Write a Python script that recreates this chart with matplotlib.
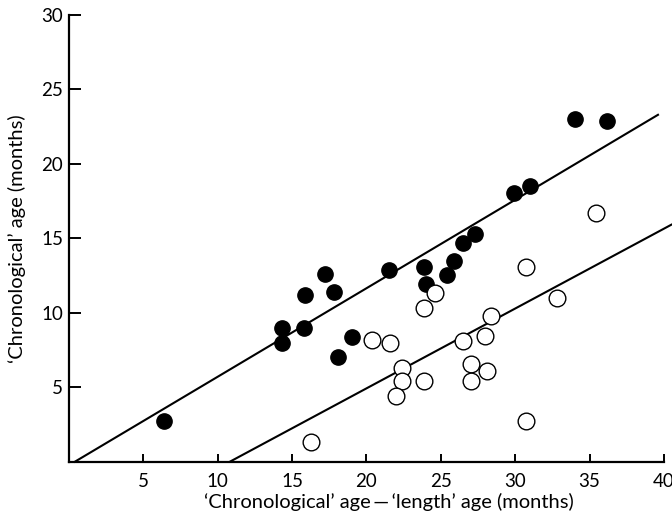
import numpy as np
import matplotlib
matplotlib.use("Agg")
import matplotlib.pyplot as plt

plt.rcParams['font.family'] = ['Lato', 'DejaVu Sans']

# filled circles
filled_x = [6.4, 14.3, 14.3, 15.9, 15.8, 17.2, 17.8, 19.0, 18.1, 21.5,
            23.9, 24.0, 25.4, 25.9, 26.5, 27.3, 29.95, 31.0, 34.0, 36.15]
filled_y = [2.75, 8.95, 7.95, 11.2, 8.95, 12.6, 11.4, 8.4, 7.0, 12.9,
            13.1, 11.9, 12.55, 13.5, 14.65, 15.25, 18.05, 18.5, 23.0, 22.9]

# open circles
open_x = [16.3, 20.4, 21.6, 22.4, 22.4, 22.0, 23.9, 23.9, 24.6, 26.5,
          27.0, 27.0, 28.1, 28.0, 28.4, 30.7, 30.7, 32.8, 35.4]
open_y = [1.35, 8.2, 8.0, 6.3, 5.45, 4.4, 5.4, 10.3, 11.3, 8.1,
          6.55, 5.45, 6.1, 8.45, 9.75, 2.75, 13.1, 11.0, 16.7]

# fitted lines: slope, intercept, x range
upper_slope, upper_icpt, upper_range = 0.594, -0.24, (0.4, 39.6)
lower_slope, lower_icpt, lower_range = 0.536, -5.8, (10.83, 40.5)

xticks = [5, 10, 15, 20, 25, 30, 35, 40]
yticks = [5, 10, 15, 20, 25, 30]

fig = plt.figure(figsize=(6.72, 5.22), dpi=100)
ax = fig.add_axes([0.1025, 0.1155, 0.8855, 0.8563])

for slope, icpt, rng in [(upper_slope, upper_icpt, upper_range),
                         (lower_slope, lower_icpt, lower_range)]:
    xs = np.array(rng)
    ax.plot(xs, slope * xs + icpt, color='black', lw=1.5, clip_on=False, zorder=2)

ax.plot(filled_x, filled_y, 'o', ms=11, color='black', zorder=3)
ax.plot(open_x, open_y, 'o', ms=12, mfc='white', mec='black', mew=1.0, zorder=3)

ax.set_xlim(0, 40)
ax.set_ylim(0, 30)
ax.spines['top'].set_visible(False)
ax.spines['right'].set_visible(False)
ax.spines['left'].set_linewidth(1.6)
ax.spines['bottom'].set_linewidth(1.6)

ax.set_xticks(xticks)
ax.set_yticks(yticks)
ax.tick_params(axis='x', direction='in', length=5.5, width=1.4, labelsize=13.5, pad=8)
ax.tick_params(axis='y', direction='in', length=8.5, width=1.4, labelsize=13.5, pad=4)

ax.set_xlabel('\u2018Chronological\u2019 age\u2009\u2014\u2009\u2018length\u2019 age (months)',
              fontsize=14.5, labelpad=2)
ax.xaxis.label.set_x(0.538)  # label sits a bit right of centre in the original
ax.set_ylabel('\u2018Chronological\u2019 age (months)', fontsize=14.5, labelpad=11)

fig.savefig('out.png', dpi=100)
